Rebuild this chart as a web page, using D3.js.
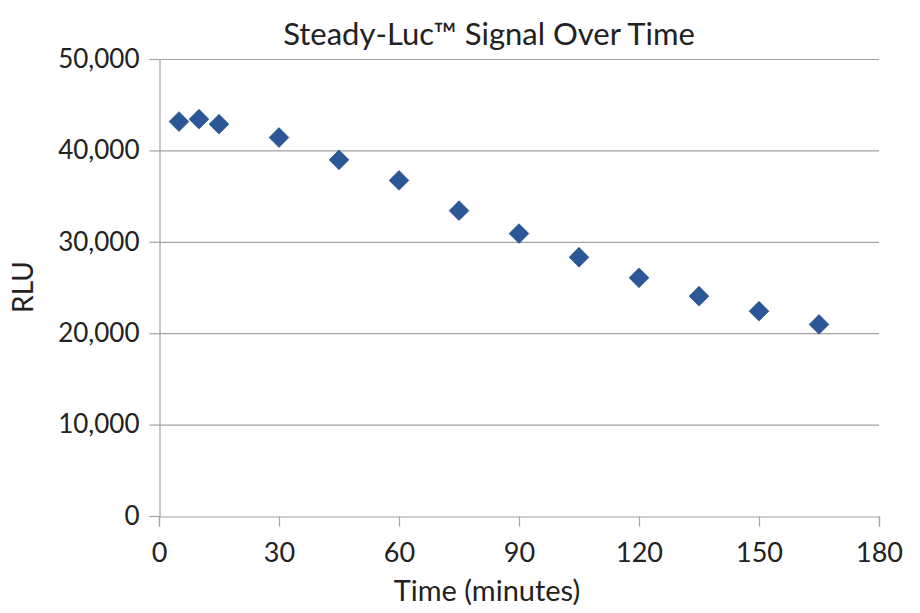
<!DOCTYPE html>
<html>
<head>
<meta charset="utf-8">
<script src="https://cdn.jsdelivr.net/npm/d3@7"></script>
<style>
  html, body { margin: 0; padding: 0; background: #fff; }
  svg { display: block; }
  text { font-family: Lato, "Open Sans", sans-serif; fill: #222; }
</style>
</head>
<body>
<svg id="chart" width="920" height="613"></svg>
<script>
const timeMinutes = [5, 10, 15, 30, 45, 60, 75, 90, 105, 120, 135, 150, 165];
const rluValues = [43150, 43420, 42870, 41410, 38970, 36720, 33410, 30900, 28310, 26060, 24050, 22410, 20960];
const xTicks = [0, 30, 60, 90, 120, 150, 180];
const yTicks = [0, 10000, 20000, 30000, 40000, 50000];
const chartTitle = "Steady-Luc\u2122 Signal Over Time";
const xTitle = "Time (minutes)";
const yTitle = "RLU";

const svg = d3.select("#chart");
const x = d3.scaleLinear().domain([0, 180]).range([159, 879]);
const y = d3.scaleLinear().domain([0, 50000]).range([516, 59]);
const gridColor = "#a3a3a3";

// horizontal gridlines
svg.append("g").selectAll("line").data(yTicks.filter(d => d > 0)).join("line")
  .attr("x1", x(0)).attr("x2", x(180))
  .attr("y1", d => y(d) + 0.5).attr("y2", d => y(d) + 0.5)
  .attr("stroke", gridColor).attr("stroke-width", 1.2);

// y axis
const yAxis = svg.append("g").attr("transform", `translate(${x(0) + 0.5},0)`)
  .call(d3.axisLeft(y).tickValues(yTicks).tickSize(10).tickPadding(8)
    .tickFormat(d3.format(",")));
yAxis.select(".domain").attr("stroke", gridColor).attr("stroke-width", 1.2);
yAxis.selectAll(".tick line").attr("stroke", gridColor).attr("stroke-width", 1.2);
yAxis.selectAll(".tick text").attr("font-size", 26).attr("fill", "#222")
  .attr("font-family", "Lato, sans-serif").attr("dx", -2);

// x axis
const xAxis = svg.append("g").attr("transform", `translate(0,${y(0) + 0.5})`)
  .call(d3.axisBottom(x).tickValues(xTicks).tickSize(10).tickPadding(16));
xAxis.select(".domain").attr("stroke", gridColor).attr("stroke-width", 1.2);
xAxis.selectAll(".tick line").attr("stroke", gridColor).attr("stroke-width", 1.2);
xAxis.selectAll(".tick text").attr("font-size", 27).attr("fill", "#222")
  .attr("font-family", "Lato, sans-serif");

// markers
svg.append("g").selectAll("path").data(timeMinutes).join("path")
  .attr("d", d3.symbol().type(d3.symbolSquare).size(196))
  .attr("transform", (d, i) => `translate(${x(d)},${y(rluValues[i])}) rotate(45)`)
  .attr("fill", "#2b5797")
  .attr("stroke", "#234a82").attr("stroke-width", 0.6);

// titles
svg.append("text").attr("x", 489).attr("y", 45).attr("text-anchor", "middle")
  .attr("font-size", 31).text(chartTitle);
svg.append("text").attr("x", 487).attr("y", 601).attr("text-anchor", "middle")
  .attr("font-size", 29).text(xTitle);
svg.append("text").attr("transform", "translate(33,287) rotate(-90)")
  .attr("text-anchor", "middle").attr("font-size", 28).text(yTitle);
</script>
</body>
</html>
